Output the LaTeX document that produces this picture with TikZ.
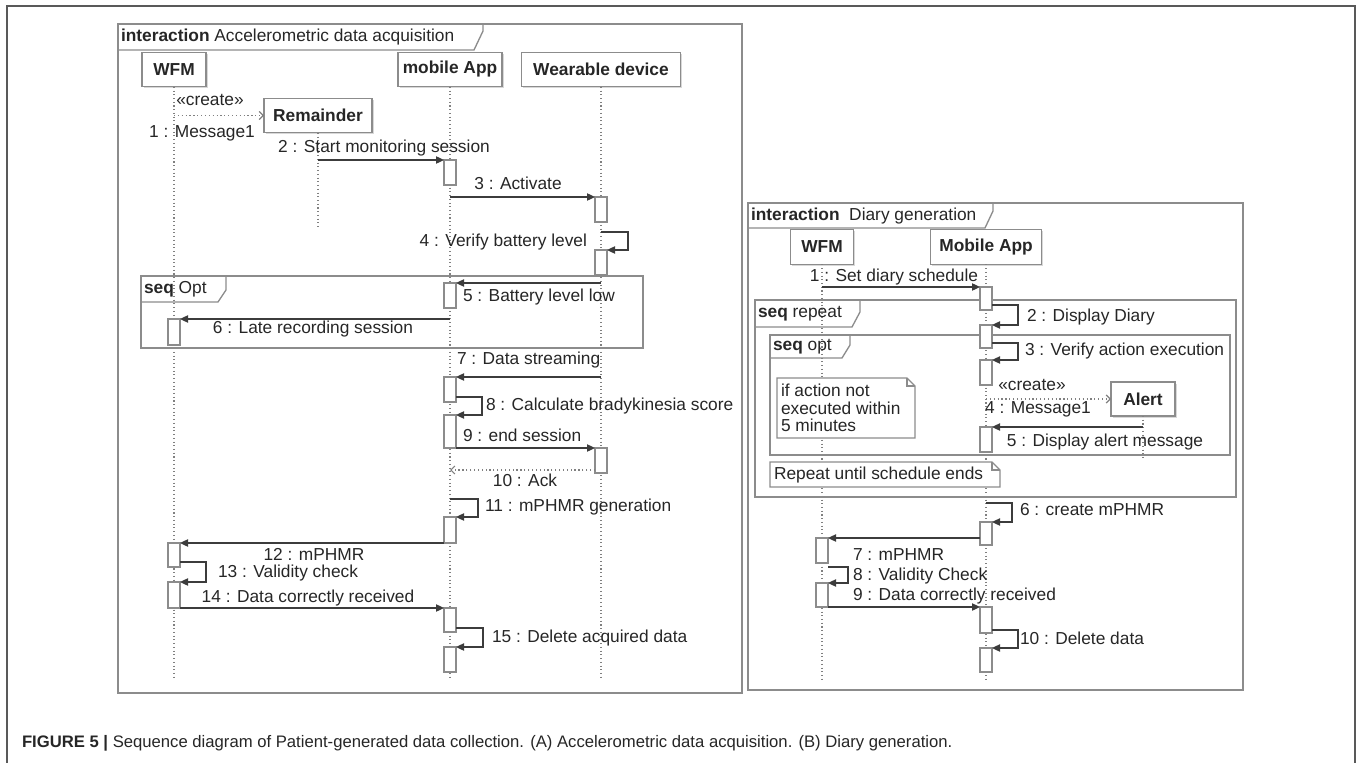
\documentclass[tikz,border=0pt]{standalone}
\usepackage{fontspec}
\setmainfont{Liberation Sans}
\usetikzlibrary{arrows.meta, shadows}

\definecolor{framegray}{HTML}{8C8C8C}
\definecolor{linegray}{HTML}{3C3C3C}

% activation bar: name, x, top, bottom (in pixels)
\newcommand{\actbar}[4]{\node[act, minimum height={(#4-#3)*0.75pt}] (#1) at (#2,{(#3+#4)/2}) {};}

\begin{document}
\begin{tikzpicture}[
    x=0.75pt, y=-0.75pt,
    every node/.style={font=\fontsize{13}{15}\selectfont, text=black!85, inner sep=0pt, outer sep=0pt},
    frm/.style={draw=framegray, line width=1.1pt},
    tab/.style={draw=framegray, line width=1pt},
    head/.style={draw=framegray, fill=white, line width=0.9pt, minimum height=26pt,
        font=\fontsize{13}{15}\selectfont\bfseries,
        drop shadow={shadow xshift=1.2pt, shadow yshift=-1.2pt, fill=black!30}},
    act/.style={draw=framegray, fill=white, line width=0.9pt, minimum width=9pt},
    life/.style={draw=gray, line width=0.8pt, dotted},
    msg/.style={draw=linegray, line width=0.9pt, -{Triangle[length=6pt, width=5.5pt]}},
    create/.style={draw=gray, line width=0.9pt, dotted, -{Straight Barb[length=3pt, width=6pt]}},
    notebox/.style={draw=framegray, fill=white, line width=0.9pt}
]
\useasboundingbox (0,0) rectangle (1360,763);

% ============ FIGURE FRAME ============
\draw[black!65, line width=1.2pt] (7,763) -- (7,6) -- (1355,6) -- (1355,763);

% ============ (A) ACCELEROMETRIC DATA ACQUISITION ============
\draw[frm] (118,24) rectangle (742,693);
\draw[tab] (118,50) -- (474,50) -- (483,31) -- (483,24);
\node[anchor=west] (titleA) at (121,37) {\textbf{interaction} Accelerometric data acquisition};

% Lifeline heads
\node[head, minimum width=48pt] (wfm) at (174,69.5) {WFM};
\node[head, minimum width=78pt] (app) at (450,69.5) {mobile App};
\node[head, minimum width=119pt] (wear) at (601,69.5) {Wearable device};
\node[head, minimum width=81pt] (rem) at (318,115.5) {Remainder};

% Lifelines
\coordinate (endA) at (0,680);
\draw[life] (wfm.south) -- (wfm.south |- endA);
\draw[life] (app.south) -- (app.south |- endA);
\draw[life] (wear.south) -- (wear.south |- endA);
\draw[life] (rem.south) -- ++(0,95);

% Optional fragment
\draw[frm] (141,276) rectangle (643,348);
\draw[tab] (141,302) -- (218,302) -- (226,290) -- (226,276);
\node[anchor=west] (optA) at (144,289) {\textbf{seq} Opt};

% Activation bars
\actbar{a2}{450}{160}{185}
\actbar{w3}{601}{197}{222}
\actbar{w4}{601}{250}{275}
\actbar{a5}{450}{283}{308}
\actbar{f6}{174}{319}{345}
\actbar{a7}{450}{377}{402}
\actbar{a8}{450}{415}{448}
\actbar{w9}{601}{448}{473}
\actbar{a11}{450}{517}{543}
\actbar{f12}{174}{543}{567}
\actbar{f13}{174}{582}{608}
\actbar{a14}{450}{608}{632}
\actbar{a15}{450}{647}{672}

% Messages
\draw[create] (wfm.south |- rem.west) -- (rem.west);
\node (cr1) at (210,100) {«create»};
\node (l1) at (202,133) {1 : Message1};
\draw[msg] (rem.south |- a2.north) -- (a2.north west);
\node (l2) at (384,148) {2 : Start monitoring session};
\draw[msg] (a2.south |- w3.north) -- (w3.north west);
\node (l3) at (518,183) {3 : Activate};
\draw[msg] ([yshift=-7.5pt]w3.south) -- ++(27,0) |- (w4.north east);
\node[anchor=east] (l4) at (587,242) {4 : Verify battery level};
\draw[msg] (w4.south |- a5.north) -- (a5.north east);
\node[anchor=west] (l5) at (463,297) {5 : Battery level low};
\draw[msg] (a5.south |- f6.north) -- (f6.north east);
\node (l6) at (313,329) {6 : Late recording session};
\draw[msg] (w4.south |- a7.north) -- (a7.north east);
\node[anchor=west] (l7) at (457,360) {7 : Data streaming};
\draw[msg] ([yshift=3.75pt]a7.south east) -- ++(26,0) |- (a8.north east);
\node[anchor=west] (l8) at (486,406) {8 : Calculate bradykinesia score};
\draw[msg] (a8.south east) -- (w9.north west);
\node[anchor=west] (l9) at (463,435) {9 : end session};
\coordinate (r10) at (450,470);
\draw[create] (w9.west |- r10) -- (r10);
\node (l10) at (525,480) {10 : Ack};
\coordinate (s11) at (450,499);
\draw[msg] (s11) -- ++(28,0) |- (a11.north east);
\node[anchor=west] (l11) at (485,507) {11 : mPHMR generation};
\draw[msg] (a11.south west) -- (f12.north east);
\node (l12) at (314,554) {12 : mPHMR};
\draw[msg] ([yshift=3.75pt]f12.south east) -- ++(26,0) |- (f13.north east);
\node[anchor=west] (l13) at (218,573) {13 : Validity check};
\draw[msg] (f13.south east) -- (a14.north west);
\node (l14) at (308,598) {14 : Data correctly received};
\draw[msg] ([yshift=3pt]a14.south east) -- ++(27,0) |- (a15.north east);
\node[anchor=west] (l15) at (492,638) {15 : Delete acquired data};

% ============ (B) DIARY GENERATION ============
\draw[frm] (748,203) rectangle (1243,690);
\draw[tab] (748,228) -- (985,228) -- (993,211) -- (993,203);
\node[anchor=west] (titleB) at (751,216) {\textbf{interaction}\ \ Diary generation};

% Lifeline heads
\node[head, minimum width=47pt] (wfmB) at (822,247) {WFM};
\node[head, minimum width=83pt] (appB) at (986,247) {Mobile App};

% Lifelines
\coordinate (endB) at (0,681);
\draw[life] (wfmB.south) -- (wfmB.south |- endB);
\draw[life] (appB.south) -- (appB.south |- endB);

% Repeat and opt fragments
\draw[frm] (755,300) rectangle (1236,497);
\draw[tab] (755,327) -- (852,327) -- (860,312) -- (860,300);
\node[anchor=west] (rep) at (758,314) {\textbf{seq} repeat};
\draw[frm] (770,335) rectangle (1230,455);
\draw[tab] (770,358) -- (842,358) -- (850,345) -- (850,335);
\node[anchor=west] (optB) at (773,347) {\textbf{seq} opt};

% Alert object
\node[head, minimum width=48pt, minimum height=25.5pt] (alert) at (1143,399) {Alert};
\draw[life] (alert.south) -- ++(0,42);

% Notes
\draw[notebox] (777,378) -- (907,378) -- (915,386) -- (915,438) -- (777,438) -- cycle;
\draw[framegray, line width=0.9pt] (907,378) -- (907,386) -- (915,386);
\node[anchor=north west, align=left, font=\fontsize{13}{13.1}\selectfont] (n1) at (781,384)
    {if action not\\executed within\\5 minutes};
\draw[notebox] (770,462) -- (992,462) -- (1000,470) -- (1000,487) -- (770,487) -- cycle;
\draw[framegray, line width=0.9pt] (992,462) -- (992,470) -- (1000,470);
\node[anchor=west] (n2) at (774,475) {Repeat until schedule ends};

% Activation bars
\actbar{b1}{986}{287}{310}
\actbar{b2}{986}{325}{348}
\actbar{b3}{986}{360}{385}
\actbar{b5}{986}{427}{452}
\actbar{b6}{986}{522}{545}
\actbar{c7}{822}{538}{563}
\actbar{c8}{822}{583}{607}
\actbar{b9}{986}{607}{633}
\actbar{b10}{986}{648}{672}

% Messages
\draw[msg] (wfmB.south |- b1.north) -- (b1.north west);
\node (k1) at (894,277) {1 : Set diary schedule};
\draw[msg] ([yshift=3.75pt]b1.south east) -- ++(26,0) |- (b2.north east);
\node[anchor=west] (k2) at (1027,317) {2 : Display Diary};
\draw[msg] ([yshift=3.75pt]b2.south east) -- ++(26,0) |- (b3.north east);
\node[anchor=west] (k3) at (1025,351) {3 : Verify action execution};
\draw[create] (appB.south |- alert.west) -- (alert.west);
\node (cr4) at (1032,385) {«create»};
\node (k4) at (1038,409) {4 : Message1};
\draw[msg] (alert.south |- b5.north) -- (b5.north east);
\node (k5) at (1105,442) {5 : Display alert message};
\coordinate (s6) at (986,503);
\draw[msg] (s6) -- ++(26,0) |- (b6.north east);
\node[anchor=west] (k6) at (1020,510) {6 : create mPHMR};
\draw[msg] (b6.west |- c7.north) -- (c7.north east);
\node[anchor=west] (k7) at (853,555) {7 : mPHMR};
\draw[msg] ([yshift=-3pt]c7.south east) -- ++(20,0) |- (c8.north east);
\node[anchor=west] (k8) at (853,576) {8 : Validity Check};
\draw[msg] (c8.south east) -- (b9.north west);
\node[anchor=west] (k9) at (853,596) {9 : Data correctly received};
\draw[msg] ([yshift=2.25pt]b9.south east) -- ++(26,0) |- (b10.north east);
\node[anchor=west] (k10) at (1020,638) {10 : Delete data};

% ============ CAPTION ============
\node[anchor=west, font=\fontsize{12.5}{15}\selectfont] (cap) at (22,743)
    {\textbf{FIGURE 5 |} Sequence diagram of Patient-generated data collection. (A) Accelerometric data acquisition. (B) Diary generation.};

\end{tikzpicture}
\end{document}
